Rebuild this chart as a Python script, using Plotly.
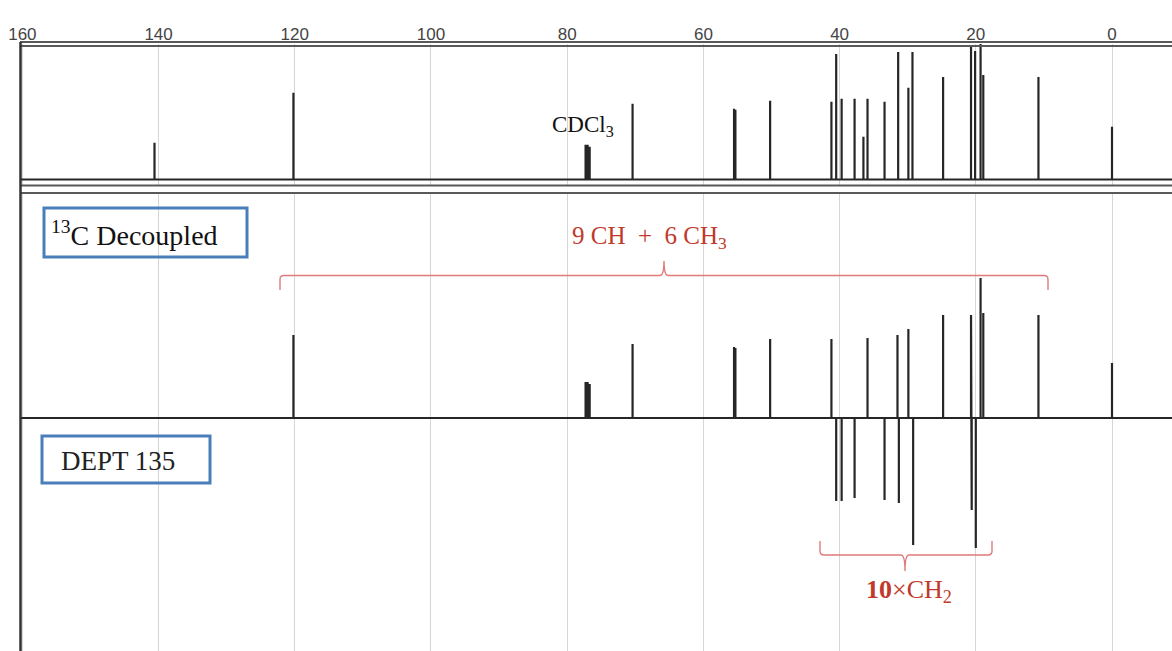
import plotly.graph_objects as go

# ---------------- data ----------------
tick_vals = [160, 140, 120, 100, 80, 60, 40, 20, 0]
tick_text = ["160", "140", "120", "100", "80", "60", "40", "20", "0"]

# 13C broadband-decoupled spectrum: chemical shift (ppm) and peak height
decoupled_ppm = [140.6, 120.2, 77.3, 77.0, 76.7, 70.4, 55.5, 55.3, 50.2, 41.2,
                 40.5, 39.7, 37.8, 36.5, 35.9, 33.4, 31.4, 29.9, 29.3, 24.8,
                 20.7, 20.1, 19.3, 18.9, 10.8, 0.0]
decoupled_int = [37, 87, 35, 35, 33, 76, 71, 70, 79, 78,
                 126, 81, 81, 43, 81, 78, 128, 92, 128, 103,
                 134, 129, 137, 105, 103, 53]

# DEPT-135 spectrum: CH / CH3 up, CH2 down
dept_ppm = [120.2, 77.3, 77.0, 76.7, 70.4, 55.5, 55.3, 50.2, 41.2, 40.5,
            39.7, 37.8, 35.9, 33.4, 31.5, 31.3, 29.9, 29.2, 24.8, 20.7,
            20.6, 20.0, 19.3, 18.9, 10.8, 0.0]
dept_int = [83, 36, 36, 34, 74, 71, 70, 79, 79, -83,
            -83, -80, 80, -82, 83, -85, 89, -127, 103, 103,
            -92, -130, 140, 105, 103, 55]

x_range = [160.35, -8.81]

# ---------------- geometry helpers (pixel -> paper) ----------------
W, H = 1172, 651
L, T = 20, 44
PW, PH = W - L, H - T


def px(x):
    return (x - L) / PW


def py(y):
    return (H - y) / PH


def stick_path(ppm, inten, x_hi, x_lo):
    pairs = sorted(zip(ppm, inten), key=lambda t: -t[0])
    xs, ys = [x_hi], [0]
    for p, h in pairs:
        xs += [p, p, p]
        ys += [0, h, 0]
    xs.append(x_lo)
    ys.append(0)
    return xs, ys


fig = go.Figure()

xs1, ys1 = stick_path(decoupled_ppm, decoupled_int, x_range[0], x_range[1])
fig.add_trace(go.Scatter(x=xs1, y=ys1, mode="lines", xaxis="x", yaxis="y",
                         line=dict(color="#262626", width=2.2), hoverinfo="skip"))

xs2, ys2 = stick_path(dept_ppm, dept_int, x_range[0], x_range[1])
fig.add_trace(go.Scatter(x=xs2, y=ys2, mode="lines", xaxis="x2", yaxis="y2",
                         line=dict(color="#262626", width=2.2), hoverinfo="skip"))

grid = dict(showgrid=True, gridcolor="#d6d6d6", gridwidth=1, zeroline=False,
            showline=False, tickvals=tick_vals)

serif = "Liberation Serif"
red = "#c0392b"
brace_red = "#e07a7a"

shapes = []
line_gray = "#595959"
# top axis double line
for yy in (42, 46):
    shapes.append(dict(type="line", xref="paper", yref="paper",
                       x0=px(L), x1=px(W), y0=py(yy), y1=py(yy),
                       line=dict(color=line_gray, width=1.8)))
# separator double line
for yy in (185.5, 193):
    shapes.append(dict(type="line", xref="paper", yref="paper",
                       x0=px(L), x1=px(W), y0=py(yy), y1=py(yy),
                       line=dict(color=line_gray, width=1.8)))
# left frame
shapes.append(dict(type="line", xref="paper", yref="paper",
                   x0=px(20.5), x1=px(20.5), y0=py(42), y1=py(651),
                   line=dict(color="#333333", width=2.5)))
# label boxes
shapes.append(dict(type="rect", xref="paper", yref="paper",
                   x0=px(44), x1=px(247), y0=py(208), y1=py(257),
                   line=dict(color="#4a7ebb", width=3), fillcolor="rgba(0,0,0,0)"))
shapes.append(dict(type="rect", xref="paper", yref="paper",
                   x0=px(42), x1=px(210), y0=py(436), y1=py(483),
                   line=dict(color="#4a7ebb", width=3), fillcolor="rgba(0,0,0,0)"))


def brace_path(x0, x1, xm, y_end, y_bar, y_tip, r=4):
    d = 1 if y_end > y_bar else -1  # direction from bar to end
    pts = []
    pts.append(f"M {px(x0)},{py(y_end)}")
    pts.append(f"L {px(x0)},{py(y_bar + d * r)}")
    pts.append(f"Q {px(x0)},{py(y_bar)} {px(x0 + r)},{py(y_bar)}")
    pts.append(f"L {px(xm - r)},{py(y_bar)}")
    pts.append(f"Q {px(xm)},{py(y_bar)} {px(xm)},{py(y_tip)}")
    pts.append(f"Q {px(xm)},{py(y_bar)} {px(xm + r)},{py(y_bar)}")
    pts.append(f"L {px(x1 - r)},{py(y_bar)}")
    pts.append(f"Q {px(x1)},{py(y_bar)} {px(x1)},{py(y_bar + d * r)}")
    pts.append(f"L {px(x1)},{py(y_end)}")
    return " ".join(pts)


shapes.append(dict(type="path", xref="paper", yref="paper",
                   path=brace_path(280, 1048, 664, 290, 275.5, 261),
                   line=dict(color=brace_red, width=1.4)))
shapes.append(dict(type="path", xref="paper", yref="paper",
                   path=brace_path(820, 992, 905, 541, 555, 571),
                   line=dict(color=brace_red, width=1.4)))

nb = "\u00a0"
annotations = [
    dict(text="CDCl<sub>3</sub>", x=px(583), y=py(126), xref="paper", yref="paper",
         xanchor="center", yanchor="middle", showarrow=False,
         font=dict(family=serif, size=23, color="#111111")),
    dict(text="<sup>13</sup>C Decoupled", x=px(49), y=py(233), xref="paper", yref="paper",
         xanchor="left", yanchor="middle", showarrow=False,
         font=dict(family=serif, size=28, color="#111111")),
    dict(text="DEPT 135", x=px(59), y=py(461), xref="paper", yref="paper",
         xanchor="left", yanchor="middle", showarrow=False,
         font=dict(family=serif, size=27, color="#222222")),
    dict(text=f"9 CH{nb}{nb}+{nb}{nb}6 CH<sub>3</sub>", x=px(649), y=py(237),
         xref="paper", yref="paper", xanchor="center", yanchor="middle", showarrow=False,
         font=dict(family=serif, size=25, color=red)),
    dict(text="<b>10</b>×CH<sub>2</sub>", x=px(909), y=py(591),
         xref="paper", yref="paper", xanchor="center", yanchor="middle", showarrow=False,
         font=dict(family=serif, size=26, color=red)),
]

fig.update_layout(
    width=W, height=H,
    margin=dict(l=L, r=0, t=T, b=0),
    paper_bgcolor="white", plot_bgcolor="white",
    showlegend=False,
    xaxis=dict(domain=[0, 1], range=x_range, side="top", anchor="y",
               ticktext=tick_text, ticks="", tickfont=dict(family="Liberation Sans", size=17, color="#444444"),
               **grid),
    xaxis2=dict(domain=[0, 1], range=x_range, matches="x", anchor="y2",
                showticklabels=False, ticks="", **grid),
    yaxis=dict(domain=[py(185.5), 1], range=[-6, 136], visible=False),
    yaxis2=dict(domain=[0, py(193)], range=[-233, 225], visible=False),
    shapes=shapes,
    annotations=annotations,
)

fig.write_html("out.html",
               config={"displayModeBar": False},
               post_script="document.body.style.margin='0px';document.body.style.overflow='hidden';")
